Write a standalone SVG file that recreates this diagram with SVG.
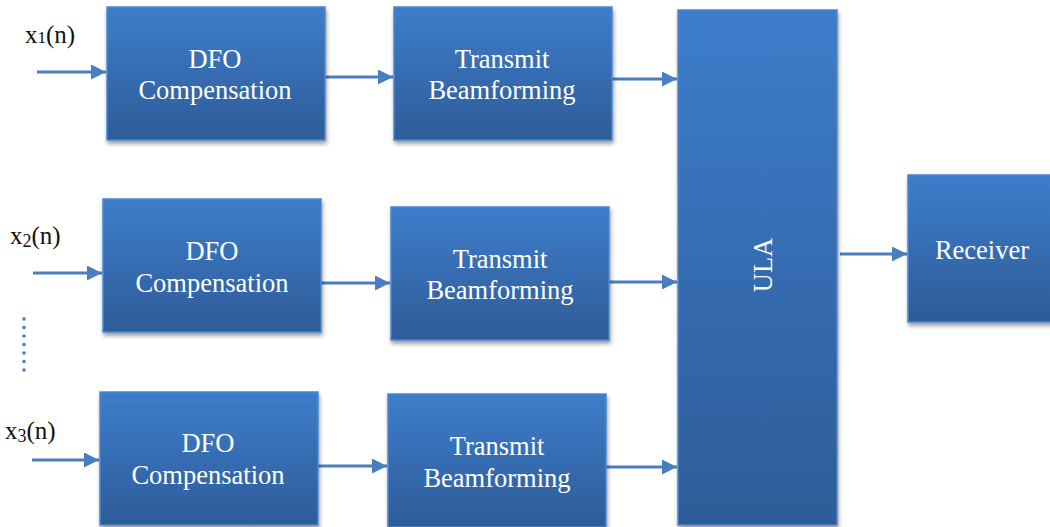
<svg xmlns="http://www.w3.org/2000/svg" width="1050" height="527" viewBox="0 0 1050 527">
<defs>
<linearGradient id="g" x1="0" y1="0" x2="0" y2="1">
<stop offset="0" stop-color="#3d7dcb"/>
<stop offset="1" stop-color="#2e5c98"/>
</linearGradient>
<filter id="sh" x="-10%" y="-10%" width="125%" height="125%">
<feGaussianBlur in="SourceAlpha" stdDeviation="2"/>
<feOffset dx="1" dy="3" result="b"/>
<feComponentTransfer><feFuncA type="linear" slope="0.4"/></feComponentTransfer>
<feMerge><feMergeNode/><feMergeNode in="SourceGraphic"/></feMerge>
</filter>
<marker id="ah" viewBox="0 0 10 10" refX="10" refY="5" markerWidth="5" markerHeight="5" orient="auto" markerUnits="strokeWidth">
<path d="M0,0 L10,5 L0,10 Z" fill="#4a7ebf"/>
</marker>
</defs>
<style>
.box{fill:url(#g);stroke:#4a87cf;stroke-width:1.5;filter:url(#sh)}
.t{font-family:"Liberation Serif","Times New Roman",serif;font-size:26.5px;fill:#ffffff;text-anchor:middle}
.lbl{font-family:"Liberation Serif","Times New Roman",serif;font-size:25px;fill:#111}
.c{stroke:#4a7ebf;stroke-width:3;fill:none;marker-end:url(#ah)}
</style>
<rect width="1050" height="527" fill="#ffffff"/>
<g id="connectors">
<line class="c" x1="37" y1="72" x2="106" y2="72"/>
<line class="c" x1="325" y1="77" x2="393" y2="77"/>
<line class="c" x1="612" y1="79" x2="677" y2="79"/>
<line class="c" x1="33" y1="273" x2="102" y2="273"/>
<line class="c" x1="321" y1="283" x2="390" y2="283"/>
<line class="c" x1="609" y1="282" x2="677" y2="282"/>
<line class="c" x1="32" y1="460" x2="99" y2="460"/>
<line class="c" x1="318" y1="466" x2="387" y2="466"/>
<line class="c" x1="606" y1="467" x2="677" y2="467"/>
<line class="c" x1="840" y1="254" x2="907" y2="254"/>
</g>
<g id="labels">
<text class="lbl" x="25" y="43">x<tspan font-size="17">1</tspan>(n)</text>
<text class="lbl" x="10" y="244">x<tspan font-size="18" dy="3">2</tspan><tspan dy="-3">(n)</tspan></text>
<text class="lbl" x="5" y="439">x<tspan font-size="18" dy="3">3</tspan><tspan dy="-3">(n)</tspan></text>
<g id="dots" fill="#4a7ebf">
<circle cx="24" cy="319" r="1.8"/><circle cx="24" cy="327.5" r="1.8"/><circle cx="24" cy="336" r="1.8"/><circle cx="24" cy="344.5" r="1.8"/><circle cx="24" cy="353" r="1.8"/><circle cx="24" cy="361.5" r="1.8"/><circle cx="24" cy="370" r="1.8"/>
</g>
</g>
<g id="dfo1"><rect class="box" x="107" y="7" width="218" height="133"/><text class="t" x="215" y="68">DFO</text><text class="t" x="215" y="99">Compensation</text></g>
<g id="tx1"><rect class="box" x="394" y="7" width="218" height="133"/><text class="t" x="502" y="68">Transmit</text><text class="t" x="502" y="99">Beamforming</text></g>
<g id="dfo2"><rect class="box" x="103" y="199" width="218" height="133"/><text class="t" x="212" y="260">DFO</text><text class="t" x="212" y="292">Compensation</text></g>
<g id="tx2"><rect class="box" x="391" y="207" width="218" height="133"/><text class="t" x="500" y="268">Transmit</text><text class="t" x="500" y="299">Beamforming</text></g>
<g id="dfo3"><rect class="box" x="100" y="392" width="218" height="133"/><text class="t" x="208" y="452">DFO</text><text class="t" x="208" y="484">Compensation</text></g>
<g id="tx3"><rect class="box" x="388" y="394" width="218" height="133"/><text class="t" x="497" y="455">Transmit</text><text class="t" x="497" y="487">Beamforming</text></g>
<g id="ula"><rect class="box" x="678" y="10" width="159" height="515"/><text class="t" transform="translate(772,265) rotate(-90)" x="0" y="0">ULA</text></g>
<g id="receiver"><rect class="box" x="908" y="175" width="145" height="147"/><text class="t" x="982" y="259">Receiver</text></g>
</svg>
